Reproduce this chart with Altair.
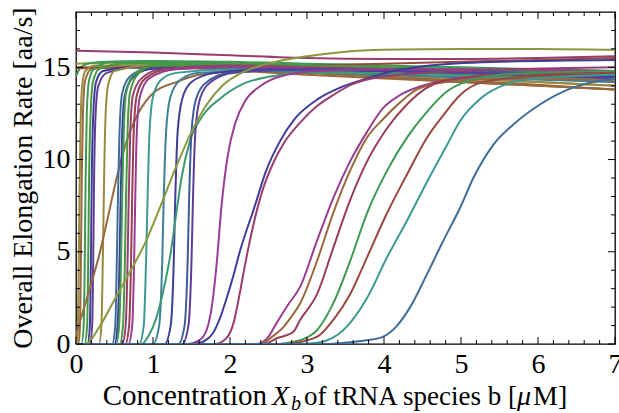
import altair as alt
import pandas as pd

# ---------------- data ----------------
curve_colors = [
    "#993d6a", "#8a993d", "#3d9954", "#99693d", "#99483d",          # T1..T5 (already saturated at x=0)
    "#998a3d", "#99693d", "#3d9954", "#47993d", "#3f3d99", "#5d3d99", "#998a3d",  # L1..L7
    "#99693d",                                                      # brown diagonal
    "#3d6e99", "#3f3d99", "#3d9954", "#47993d", "#993d71", "#993d53", "#993d93",  # L8..L14
    "#3d9993", "#3d8099", "#3f3d99", "#3d9972", "#3d5c99", "#5d3d99",            # L15..L20
    "#89993d",                                                      # olive top diagonal
    "#993d93", "#3f3d99", "#993d71",                                # M1..M3
    "#993d93", "#99693d", "#993d53", "#3d9954", "#99483d", "#3d9993", "#3d6e99",  # R1..R7
]

curve_x = [
    [0, 1, 2, 3, 4, 5, 6, 7],
    [0, 0.5, 1, 2, 3, 4, 5, 6, 7],
    [0, 0.05, 0.15, 0.4, 1, 2, 3, 4, 5, 6, 7],
    [0, 1, 2, 3, 4, 5, 6, 7],
    [0, 1, 2, 3, 4, 5, 6, 7],
    # L1..L7
    [0, 0.02, 0.035, 0.045, 0.06, 0.08, 0.12, 0.25, 1, 3, 5, 7],
    [0, 0.03, 0.05, 0.065, 0.075, 0.09, 0.12, 0.2, 0.5, 1, 3, 5, 7],
    [0, 0.07, 0.1, 0.115, 0.125, 0.14, 0.17, 0.25, 0.5, 1, 3, 5, 7],
    [0, 0.11, 0.145, 0.16, 0.17, 0.19, 0.22, 0.3, 0.6, 1, 3, 5, 7],
    [0, 0.15, 0.18, 0.195, 0.205, 0.225, 0.26, 0.35, 0.7, 1, 3, 5, 7],
    [0, 0.18, 0.21, 0.225, 0.235, 0.255, 0.29, 0.4, 0.8, 3, 5, 7],
    [0, 0.3, 0.33, 0.35, 0.365, 0.385, 0.42, 0.5, 1, 3, 5, 7],
    # brown diagonal
    [0, 0.1, 0.2, 0.3, 0.4, 0.5, 0.6, 0.7, 0.82, 1.0, 1.3, 1.6, 2.2, 3, 5, 7],
    # L8..L14
    [0, 0.47, 0.51, 0.53, 0.545, 0.565, 0.6, 0.7, 0.9, 1.2, 3, 5, 7],
    [0, 0.5, 0.54, 0.565, 0.58, 0.6, 0.635, 0.73, 0.95, 1.3, 3, 5, 7],
    [0, 0.52, 0.56, 0.585, 0.6, 0.62, 0.65, 0.75, 1, 3, 5, 7],
    [0, 0.57, 0.61, 0.635, 0.65, 0.67, 0.7, 0.8, 1.0, 2, 3, 5, 7],
    [0, 0.6, 0.645, 0.67, 0.685, 0.705, 0.74, 0.85, 1.1, 2, 3, 5, 7],
    [0, 0.64, 0.69, 0.715, 0.73, 0.75, 0.79, 0.9, 1.2, 2, 3, 5, 7],
    [0, 0.68, 0.73, 0.755, 0.77, 0.79, 0.83, 0.95, 1.3, 2, 4, 7],
    # L15..L20
    [0, 0.82, 0.88, 0.91, 0.93, 0.955, 1.0, 1.1, 1.3, 2, 4, 7],
    [0, 1.0, 1.08, 1.12, 1.14, 1.17, 1.22, 1.35, 1.6, 2.5, 4, 7],
    [0, 1.15, 1.23, 1.27, 1.29, 1.32, 1.38, 1.5, 1.8, 2.5, 4, 7],
    [0, 0.85, 0.95, 1.05, 1.15, 1.22, 1.3, 1.37, 1.48, 1.65, 1.87, 2.17, 2.52, 3, 5, 7],
    [0, 1.33, 1.41, 1.45, 1.47, 1.5, 1.56, 1.7, 2.0, 3, 5, 7],
    [0, 1.38, 1.46, 1.5, 1.52, 1.55, 1.61, 1.75, 2.05, 3, 5, 7],
    # olive top diagonal
    [0, 0.12, 0.3, 0.5, 0.7, 0.9, 1.1, 1.3, 1.5, 1.7, 1.9, 2.2, 2.6, 3.0, 3.5, 4, 5, 6, 7],
    # M1..M3
    [0, 1.45, 1.6, 1.7, 1.77, 1.83, 1.89, 1.97, 2.07, 2.2, 2.4, 2.65, 3.15, 4, 5, 7],
    [0, 1.5, 1.6, 1.7, 1.78, 1.87, 1.95, 2.05, 2.12, 2.21, 2.3, 2.47, 2.65, 2.84, 3.15, 3.43, 3.78, 4.12, 4.6, 5.5, 7],
    [0, 1.8, 1.95, 2.05, 2.12, 2.2, 2.3, 2.42, 2.56, 2.7, 2.91, 3.13, 3.34, 3.6, 4, 5, 7],
    # R1..R7
    [0, 2.35, 2.5, 2.6, 2.75, 2.91, 3.13, 3.34, 3.56, 3.78, 3.99, 4.21, 4.5, 5, 6, 7],
    [0, 2.4, 2.55, 2.69, 2.8, 2.91, 3.13, 3.34, 3.56, 3.78, 3.99, 4.21, 4.43, 4.8, 5.5, 7],
    [0, 2.45, 2.6, 2.82, 2.91, 3.13, 3.34, 3.56, 3.78, 4.04, 4.3, 4.56, 4.8, 5.5, 7],
    [0, 2.6, 2.8, 2.91, 3.13, 3.34, 3.56, 3.78, 4.04, 4.3, 4.56, 4.82, 4.99, 5.5, 7],
    [0, 2.7, 2.9, 3.0, 3.17, 3.34, 3.56, 3.78, 4.04, 4.3, 4.56, 4.77, 4.99, 5.21, 5.6, 6.3, 7],
    [0, 2.9, 3.17, 3.47, 3.78, 4.04, 4.3, 4.56, 4.82, 4.99, 5.25, 5.6, 6, 7],
    [0, 3.3, 3.56, 3.78, 3.99, 4.17, 4.34, 4.56, 4.77, 4.99, 5.16, 5.42, 5.68, 6.03, 6.45, 7],
]

curve_y = [
    [15.9, 15.8, 15.65, 15.5, 15.45, 15.45, 15.5, 15.6],
    [15.2, 15.25, 15.25, 15.1, 14.95, 14.8, 14.6, 14.4, 14.2],
    [14.5, 14.95, 15.2, 15.3, 15.35, 15.3, 15.2, 15.1, 15.0, 14.9, 14.8],
    [15.0, 15.0, 14.9, 14.7, 14.5, 14.3, 14.05, 13.8],
    [14.95, 15.0, 15.05, 15.1, 15.2, 15.3, 15.4, 15.5],
    # L1..L7
    [0, 0.5, 4, 8, 12, 14, 14.8, 15.1, 15.1, 14.8, 14.4, 14.0],
    [0, 0, 0.8, 5, 9, 12.5, 14.3, 14.9, 15.0, 15.0, 14.6, 14.2, 13.8],
    [0, 0, 1, 5, 9, 12.5, 14.3, 15.0, 15.3, 15.3, 15.1, 14.9, 14.7],
    [0, 0, 1, 5, 9, 12.5, 14.2, 14.9, 15.2, 15.2, 15.0, 14.8, 14.5],
    [0, 0, 1, 5, 9, 12.5, 14.2, 14.8, 15.0, 15.0, 14.9, 14.7, 14.5],
    [0, 0, 1, 5, 9, 12.5, 14.0, 14.7, 15.0, 14.9, 14.8, 14.6],
    [0, 0, 1, 5, 9, 12.5, 14.1, 14.8, 15.1, 14.8, 14.4, 14.0],
    # brown diagonal
    [0.5, 1.9, 3.3, 4.8, 6.6, 8.5, 10.2, 11.5, 12.6, 13.6, 14.2, 14.6, 14.8, 14.7, 14.2, 13.8],
    # L8..L14
    [0, 0, 1, 4.5, 8, 11.5, 13.6, 14.5, 14.9, 15.0, 14.8, 14.6, 14.3],
    [0, 0, 1, 4.5, 8, 11.5, 13.5, 14.4, 14.9, 15.0, 14.9, 14.7, 14.5],
    [0, 0, 1, 4.5, 8, 11.5, 13.6, 14.6, 15.1, 15.0, 14.8, 14.6],
    [0, 0, 1, 4.5, 8, 11.5, 13.6, 14.6, 15.1, 15.2, 15.1, 14.9, 14.7],
    [0, 0, 1, 4.5, 8, 11.5, 13.5, 14.4, 14.9, 15.1, 15.0, 14.8, 14.5],
    [0, 0, 1, 4.5, 8, 11.5, 13.5, 14.4, 14.9, 15.0, 14.9, 14.7, 14.4],
    [0, 0, 1, 4.5, 8, 11.5, 13.4, 14.4, 14.9, 15.0, 14.8, 14.5],
    # L15..L20
    [0, 0, 1, 4.5, 8, 11.5, 13.4, 14.3, 14.7, 14.9, 14.7, 14.3],
    [0, 0, 1, 4.5, 8, 11.5, 13.3, 14.3, 14.7, 14.8, 14.6, 14.2],
    [0, 0, 1, 4.5, 8, 11.5, 13.3, 14.2, 14.7, 14.9, 14.8, 14.5],
    [0, 0, 0.5, 1.5, 3.2, 4.7, 7.0, 9.0, 11.0, 12.4, 13.3, 14.1, 14.5, 14.7, 14.6, 14.3],
    [0, 0, 1, 4.5, 8, 11.5, 13.3, 14.2, 14.7, 14.9, 14.8, 14.6],
    [0, 0, 1, 4.5, 8, 11.5, 13.3, 14.2, 14.7, 14.9, 14.7, 14.4],
    # olive top diagonal
    [0, 0, 0.9, 2.4, 3.9, 5.5, 7.5, 9.6, 11.5, 13.0, 14.0, 14.8, 15.3, 15.6, 15.85, 15.95, 16.0, 16.0, 15.95],
    # M1..M3
    [0, 0, 0.2, 0.8, 2.2, 4.5, 7.5, 10.2, 12.0, 13.2, 14.0, 14.5, 14.8, 14.9, 14.9, 14.8],
    [0, 0, 0.05, 0.25, 0.6, 1.4, 2.4, 3.8, 4.9, 6.1, 7.2, 9.4, 11.0, 12.2, 13.3, 13.9, 14.4, 14.8, 15.1, 15.3, 15.4],
    [0, 0, 0.3, 1.2, 2.6, 4.4, 6.4, 8.3, 9.8, 10.9, 12.0, 12.9, 13.5, 14.1, 14.5, 14.8, 15.0],
    # R1..R7
    [0, 0, 0.4, 1.1, 2.1, 3.1, 5.6, 7.9, 9.9, 11.5, 12.8, 13.5, 14.0, 14.4, 14.7, 14.8],
    [0, 0, 0.4, 0.9, 1.5, 2.2, 4.5, 7.1, 9.4, 11.2, 12.2, 13.1, 13.8, 14.2, 14.4, 14.3],
    [0, 0, 0.3, 0.65, 1.3, 2.7, 5.2, 7.8, 9.9, 11.7, 13.0, 13.9, 14.3, 14.6, 14.7],
    [0, 0, 0.1, 0.2, 0.75, 2.2, 4.5, 7.1, 9.4, 11.2, 12.6, 13.7, 14.1, 14.6, 14.8],
    [0, 0, 0.1, 0.2, 0.5, 1.3, 2.7, 4.7, 7.1, 9.2, 11.2, 12.4, 13.5, 14.1, 14.4, 14.6, 14.7],
    [0, 0, 0.1, 0.75, 2.5, 4.7, 6.7, 8.8, 10.8, 12.1, 13.3, 14.1, 14.4, 14.6],
    [0, 0, 0.1, 0.2, 0.4, 1.0, 2.0, 3.8, 5.6, 7.4, 9.0, 10.8, 11.9, 13.0, 13.9, 14.4],
]

x_major = [0, 1, 2, 3, 4, 5, 6, 7]
x_minor = [0.2, 0.4, 0.6, 0.8, 1.2, 1.4, 1.6, 1.8, 2.2, 2.4, 2.6, 2.8, 3.2, 3.4, 3.6, 3.8,
           4.2, 4.4, 4.6, 4.8, 5.2, 5.4, 5.6, 5.8, 6.2, 6.4, 6.6, 6.8]
y_major = [0, 5, 10, 15]
y_minor = [1, 2, 3, 4, 6, 7, 8, 9, 11, 12, 13, 14, 16, 17]

# ---------------- build tables ----------------
rows = []
for i, (xs_, ys_) in enumerate(zip(curve_x, curve_y)):
    for j, (xv, yv) in enumerate(zip(xs_, ys_)):
        rows.append({"cid": f"c{i:02d}", "x": xv, "y": yv, "k": j})
df = pd.DataFrame(rows)
ids = [f"c{i:02d}" for i in range(len(curve_x))]

W, H = 539, 332
FONT = "Liberation Serif"

xs = alt.Scale(domain=[0, 7], nice=False, zero=False)
ys = alt.Scale(domain=[0, 18], nice=False, zero=False)

lines = alt.Chart(df).mark_line(strokeWidth=2, interpolate="monotone", clip=True).encode(
    x=alt.X("x:Q", scale=xs, axis=alt.Axis(values=x_major, format="d", ticks=False, domain=False,
                                            grid=False, title=None, labelFont=FONT, labelFontSize=28,
                                            labelColor="black", labelPadding=6, labelFlush=False)),
    y=alt.Y("y:Q", scale=ys, axis=alt.Axis(values=y_major, format="d", ticks=False, domain=False,
                                            grid=False, title=None, labelFont=FONT, labelFontSize=28,
                                            labelColor="black", labelPadding=6, labelFlush=False)),
    color=alt.Color("cid:N", scale=alt.Scale(domain=ids, range=curve_colors), legend=None),
    detail="cid:N",
    order="k:Q",
)

dxM = pd.DataFrame({"v": x_major})
dxm = pd.DataFrame({"v": x_minor})
dyM = pd.DataFrame({"v": y_major})
dym = pd.DataFrame({"v": y_minor})

def xticks(d, L):
    b = alt.Chart(d).mark_rule(color="black", strokeWidth=1).encode(
        x=alt.X("v:Q", scale=xs), y=alt.value(H), y2=alt.value(H - L))
    t = alt.Chart(d).mark_rule(color="black", strokeWidth=1).encode(
        x=alt.X("v:Q", scale=xs), y=alt.value(0), y2=alt.value(L))
    return b + t

def yticks(d, L):
    l = alt.Chart(d).mark_rule(color="black", strokeWidth=1).encode(
        y=alt.Y("v:Q", scale=ys), x=alt.value(0), x2=alt.value(L))
    r = alt.Chart(d).mark_rule(color="black", strokeWidth=1).encode(
        y=alt.Y("v:Q", scale=ys), x=alt.value(W), x2=alt.value(W - L))
    return l + r

one = pd.DataFrame({"a": [0]})

def txt(s, x, y, size=28, style="normal", align="left", angle=0):
    return alt.Chart(one).mark_text(text=s, font=FONT, fontSize=size, fontStyle=style,
                                    align=align, baseline="alphabetic", angle=angle,
                                    color="black").encode(x=alt.value(x), y=alt.value(y))

BL = 393
title_parts = (
    txt("Concentration", 191, BL, size=29, align="right")
    + txt("X", 196, BL, style="italic")
    + txt("b", 215, BL + 5, size=20, style="italic")
    + txt("of  tRNA species b [", 228, BL, size=27)
    + txt("μ", 441, BL, style="italic")
    + txt("M]", 457, BL)
    + txt("Overall Elongation Rate [aa/s]", -44, H / 2, angle=270, align="center")
)

chart = alt.layer(
    lines,
    xticks(dxM, 7), xticks(dxm, 4), yticks(dyM, 7), yticks(dym, 4),
    title_parts,
).properties(
    width=W, height=H,
    autosize=alt.AutoSizeParams(type="none"),
    padding={"left": 76, "top": 12, "right": 4, "bottom": 69},
    background="white",
).configure_view(stroke="black", strokeWidth=1.3)

chart.save("out.html", embed_options={"renderer": "svg", "actions": False})
